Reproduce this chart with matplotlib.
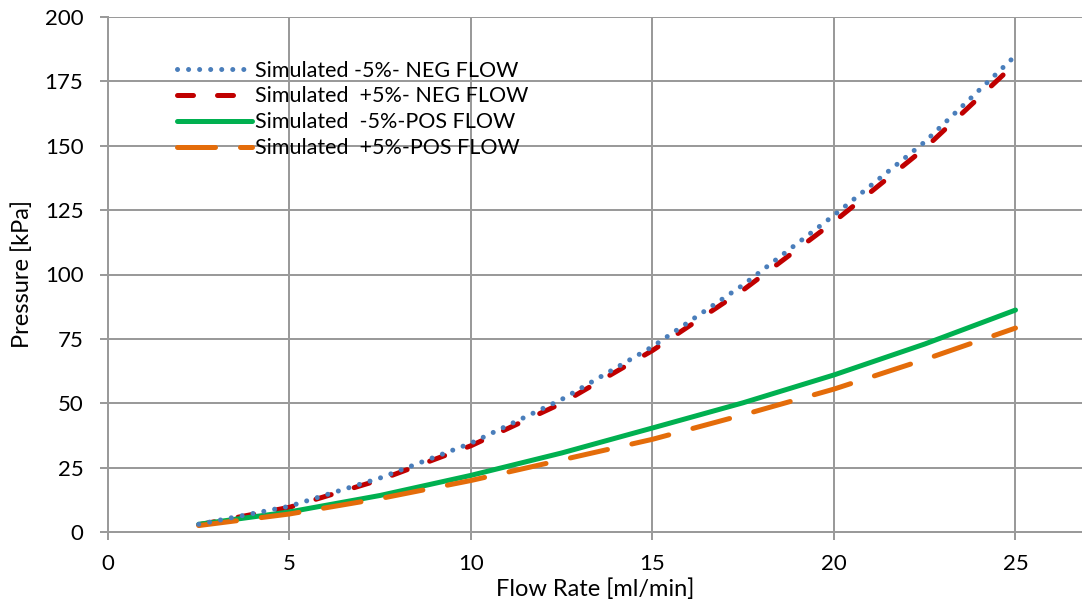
import matplotlib
matplotlib.use("Agg")
import matplotlib.pyplot as plt

plt.rcParams['font.family'] = ['Lato', 'DejaVu Sans']

# Flow rate samples [ml/min]
flow = [2.5, 5, 7.5, 10, 12.5, 15, 17.5, 20, 22.5, 25]

# Simulated pressure [kPa]
neg_minus5 = [3.0, 10.0, 21.0, 34.5, 51.5, 72.0, 96.0, 123.0, 151.5, 185.0]
neg_plus5 = [2.8, 9.6, 20.3, 33.5, 50.0, 70.5, 94.0, 120.5, 149.0, 182.0]
pos_minus5 = [3.0, 7.8, 14.2, 22.0, 30.7, 40.4, 50.2, 61.0, 73.0, 86.2]
pos_plus5 = [2.5, 7.0, 13.0, 20.0, 28.0, 36.0, 45.5, 55.5, 67.0, 79.2]

labels = ["Simulated -5%- NEG FLOW", "Simulated  +5%- NEG FLOW",
          "Simulated  -5%-POS FLOW", "Simulated  +5%-POS FLOW"]

x_ticks = [0, 5, 10, 15, 20, 25]
y_ticks = [0, 25, 50, 75, 100, 125, 150, 175, 200]

W, H = 1082, 604
fig = plt.figure(figsize=(W / 100, H / 100), dpi=100)
ax = fig.add_axes([108 / W, (H - 532) / H, (W - 108) / W, (532 - 17) / H])

grid_c = '#9a9a9a'
px = 72 / 100  # points per pixel

ax.plot(flow, neg_minus5, color='#4a7ebb', lw=5 * px,
        linestyle=(0, (0.01, 11 / 5)), dash_capstyle='round', label=labels[0], zorder=4)
ax.plot(flow, neg_plus5, color='#c00000', lw=5 * px,
        linestyle=(0, (16 / 5, 24 / 5)), dash_capstyle='round', label=labels[1], zorder=3)
ax.plot(flow, pos_minus5, color='#00b050', lw=5 * px,
        solid_capstyle='round', label=labels[2], zorder=3)
ax.plot(flow, pos_plus5, color='#e46c0a', lw=5 * px,
        linestyle=(0, (38 / 5, 25 / 5)), dash_capstyle='round', label=labels[3], zorder=3)

ax.set_xlim(0, (W - 108) / (181.5 / 5))
ax.set_ylim(0, 200)
ax.set_xticks(x_ticks)
ax.set_yticks(y_ticks)
ax.grid(True, color=grid_c, lw=2 * px)
ax.set_axisbelow(True)

for side in ['top', 'right']:
    ax.spines[side].set_visible(False)
for side in ['left', 'bottom']:
    ax.spines[side].set_color(grid_c)
    ax.spines[side].set_linewidth(2 * px)

ax.tick_params(axis='both', direction='out', length=8 * px, width=2 * px,
               color=grid_c, labelsize=16, labelcolor='black')
ax.tick_params(axis='x', pad=10)
ax.tick_params(axis='y', pad=12)

ax.set_xlabel('Flow Rate [ml/min]', fontsize=17, labelpad=3)
ax.set_ylabel('Pressure [kPa]', fontsize=17, labelpad=8)

leg = ax.legend(loc='upper left', bbox_to_anchor=(60 / (W - 108), 1 - 35 / (532 - 17)),
                frameon=False, fontsize=15.5, handlelength=3.5, handletextpad=0.15,
                labelspacing=0.27, borderaxespad=0)

fig.savefig('out.png', dpi=100, facecolor='white')
